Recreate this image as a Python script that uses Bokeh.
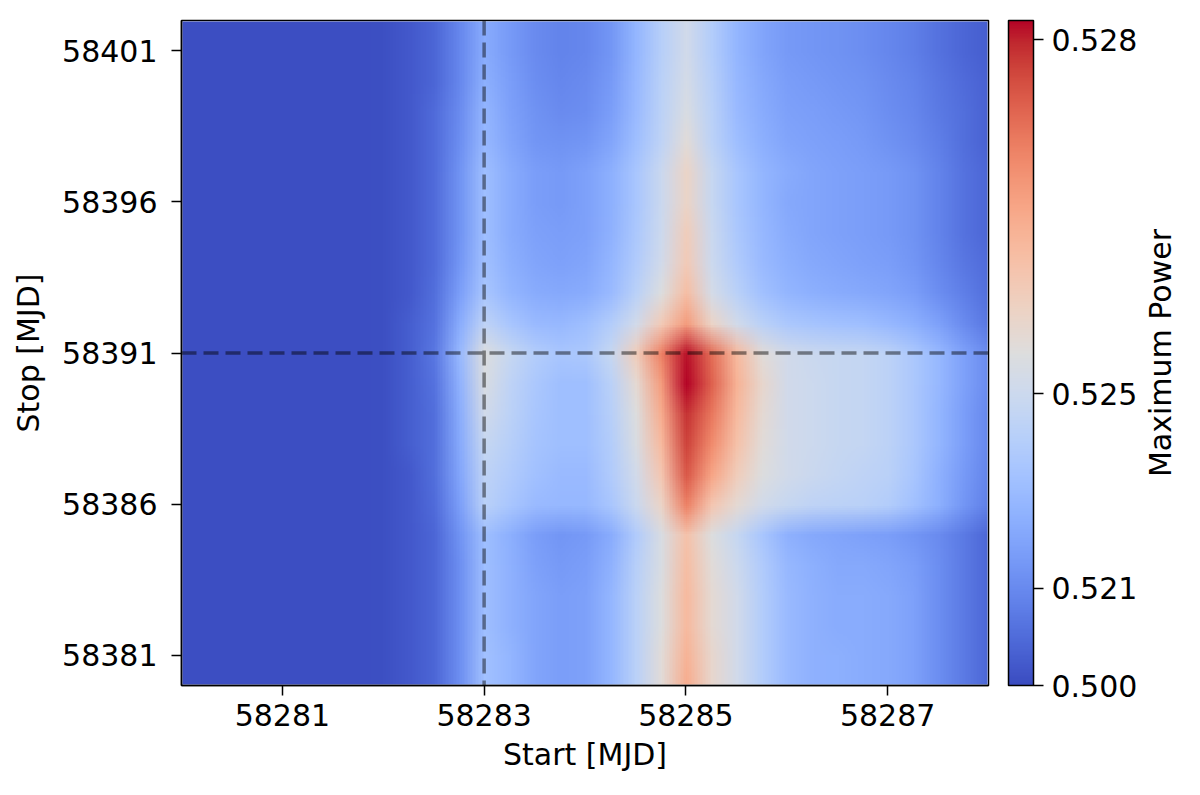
import base64
import struct
import zlib

import numpy as np
from bokeh.plotting import figure
from bokeh.layouts import row
from bokeh.models import (Range1d, FixedTicker, LinearColorMapper, ColorBar,
                          Span, NumeralTickFormatter)
from bokeh.core.properties import value
from bokeh.embed import file_html
from bokeh.resources import INLINE

# ---------------- data ----------------
# grid of start / stop dates (MJD)
start_grid = [58280.00, 58280.25, 58280.50, 58280.75, 58281.00, 58281.25, 58281.50, 58281.75,
              58282.00, 58282.25, 58282.50, 58282.75, 58283.00, 58283.25, 58283.50, 58283.75,
              58284.00, 58284.25, 58284.50, 58284.75, 58285.00, 58285.25, 58285.50, 58285.75,
              58286.00, 58286.25, 58286.50, 58286.75, 58287.00, 58287.25, 58287.50, 58287.75,
              58288.00]
stop_grid = [58380, 58381, 58382, 58383, 58384, 58385, 58386, 58387, 58388, 58389, 58390, 58391,
             58392, 58393, 58394, 58395, 58396, 58397, 58398, 58399, 58400, 58401, 58402]

# maximum power, one row per stop date (bottom -> top), one column per start date
max_power = [
 [0.5110,0.5110,0.5110,0.5110,0.5110,0.5110,0.5110,0.5110,0.5129,0.5162,0.5183,0.5212,0.5235,0.5230,0.5222,0.5219,0.5220,0.5230,0.5243,0.5255,0.5267,0.5257,0.5251,0.5241,0.5232,0.5228,0.5227,0.5225,0.5224,0.5220,0.5212,0.5198,0.5183],  # 58380
 [0.5110,0.5110,0.5110,0.5110,0.5110,0.5110,0.5110,0.5110,0.5129,0.5162,0.5183,0.5212,0.5235,0.5230,0.5222,0.5219,0.5220,0.5230,0.5243,0.5255,0.5266,0.5257,0.5251,0.5241,0.5232,0.5228,0.5227,0.5225,0.5224,0.5220,0.5212,0.5198,0.5183],  # 58381
 [0.5110,0.5110,0.5110,0.5110,0.5110,0.5110,0.5110,0.5110,0.5129,0.5162,0.5183,0.5212,0.5234,0.5228,0.5222,0.5219,0.5220,0.5230,0.5243,0.5254,0.5265,0.5256,0.5251,0.5241,0.5232,0.5228,0.5225,0.5225,0.5224,0.5220,0.5212,0.5198,0.5183],  # 58382
 [0.5110,0.5110,0.5110,0.5110,0.5110,0.5110,0.5110,0.5110,0.5129,0.5162,0.5183,0.5212,0.5234,0.5228,0.5222,0.5219,0.5220,0.5230,0.5243,0.5254,0.5265,0.5256,0.5251,0.5241,0.5232,0.5228,0.5225,0.5225,0.5224,0.5220,0.5212,0.5198,0.5183],  # 58383
 [0.5110,0.5110,0.5110,0.5110,0.5110,0.5110,0.5110,0.5110,0.5129,0.5162,0.5183,0.5212,0.5234,0.5228,0.5220,0.5217,0.5219,0.5228,0.5242,0.5253,0.5264,0.5255,0.5250,0.5240,0.5231,0.5227,0.5224,0.5224,0.5222,0.5219,0.5212,0.5198,0.5183],  # 58384
 [0.5110,0.5110,0.5110,0.5110,0.5110,0.5110,0.5110,0.5110,0.5129,0.5162,0.5183,0.5214,0.5234,0.5227,0.5219,0.5215,0.5217,0.5225,0.5240,0.5253,0.5263,0.5254,0.5248,0.5237,0.5228,0.5224,0.5222,0.5220,0.5219,0.5215,0.5211,0.5198,0.5183],  # 58385
 [0.5110,0.5110,0.5110,0.5110,0.5110,0.5110,0.5110,0.5110,0.5129,0.5162,0.5186,0.5219,0.5243,0.5237,0.5232,0.5231,0.5231,0.5237,0.5249,0.5258,0.5272,0.5262,0.5256,0.5251,0.5248,0.5245,0.5244,0.5243,0.5241,0.5235,0.5227,0.5215,0.5202],  # 58386
 [0.5110,0.5110,0.5110,0.5110,0.5110,0.5110,0.5110,0.5110,0.5129,0.5162,0.5189,0.5222,0.5245,0.5240,0.5235,0.5232,0.5232,0.5240,0.5251,0.5262,0.5276,0.5268,0.5260,0.5254,0.5251,0.5249,0.5247,0.5245,0.5243,0.5237,0.5228,0.5217,0.5205],  # 58387
 [0.5110,0.5110,0.5110,0.5110,0.5110,0.5110,0.5110,0.5110,0.5129,0.5170,0.5189,0.5224,0.5248,0.5242,0.5236,0.5234,0.5234,0.5241,0.5253,0.5265,0.5278,0.5271,0.5263,0.5255,0.5251,0.5250,0.5248,0.5247,0.5244,0.5238,0.5230,0.5219,0.5208],  # 58388
 [0.5110,0.5110,0.5110,0.5110,0.5110,0.5110,0.5110,0.5110,0.5129,0.5170,0.5189,0.5225,0.5251,0.5244,0.5237,0.5234,0.5234,0.5242,0.5254,0.5267,0.5279,0.5273,0.5265,0.5256,0.5251,0.5250,0.5248,0.5247,0.5244,0.5238,0.5230,0.5219,0.5208],  # 58389
 [0.5110,0.5110,0.5110,0.5110,0.5110,0.5110,0.5110,0.5110,0.5129,0.5170,0.5192,0.5228,0.5253,0.5245,0.5238,0.5234,0.5234,0.5243,0.5256,0.5269,0.5282,0.5275,0.5266,0.5257,0.5251,0.5250,0.5248,0.5247,0.5244,0.5238,0.5231,0.5220,0.5211],  # 58390
 [0.5110,0.5110,0.5110,0.5110,0.5110,0.5110,0.5110,0.5110,0.5129,0.5170,0.5195,0.5231,0.5254,0.5248,0.5241,0.5237,0.5238,0.5248,0.5260,0.5272,0.5281,0.5274,0.5265,0.5255,0.5251,0.5249,0.5248,0.5247,0.5244,0.5238,0.5231,0.5220,0.5211],  # 58391
 [0.5110,0.5110,0.5110,0.5110,0.5110,0.5110,0.5110,0.5110,0.5129,0.5170,0.5192,0.5225,0.5245,0.5237,0.5232,0.5231,0.5234,0.5241,0.5251,0.5261,0.5269,0.5258,0.5251,0.5243,0.5238,0.5236,0.5235,0.5234,0.5231,0.5227,0.5220,0.5211,0.5195],  # 58392
 [0.5110,0.5110,0.5110,0.5110,0.5110,0.5110,0.5110,0.5110,0.5129,0.5162,0.5189,0.5219,0.5237,0.5230,0.5225,0.5224,0.5225,0.5232,0.5243,0.5254,0.5264,0.5252,0.5243,0.5235,0.5230,0.5227,0.5225,0.5224,0.5222,0.5219,0.5212,0.5202,0.5189],  # 58393
 [0.5110,0.5110,0.5110,0.5110,0.5110,0.5110,0.5110,0.5110,0.5129,0.5162,0.5186,0.5215,0.5235,0.5227,0.5222,0.5220,0.5222,0.5230,0.5240,0.5251,0.5261,0.5250,0.5240,0.5232,0.5227,0.5224,0.5222,0.5220,0.5219,0.5215,0.5208,0.5195,0.5186],  # 58394
 [0.5110,0.5110,0.5110,0.5110,0.5110,0.5110,0.5110,0.5110,0.5129,0.5162,0.5186,0.5214,0.5234,0.5225,0.5220,0.5219,0.5220,0.5228,0.5238,0.5250,0.5260,0.5249,0.5238,0.5231,0.5225,0.5222,0.5220,0.5219,0.5217,0.5214,0.5205,0.5192,0.5183],  # 58395
 [0.5110,0.5110,0.5110,0.5110,0.5110,0.5110,0.5110,0.5110,0.5129,0.5162,0.5186,0.5214,0.5234,0.5225,0.5219,0.5217,0.5220,0.5227,0.5237,0.5249,0.5258,0.5248,0.5237,0.5230,0.5224,0.5222,0.5220,0.5219,0.5217,0.5214,0.5205,0.5192,0.5183],  # 58396
 [0.5110,0.5110,0.5110,0.5110,0.5110,0.5110,0.5110,0.5110,0.5129,0.5162,0.5186,0.5214,0.5234,0.5225,0.5219,0.5217,0.5220,0.5227,0.5237,0.5249,0.5258,0.5248,0.5237,0.5230,0.5225,0.5222,0.5220,0.5219,0.5217,0.5214,0.5205,0.5192,0.5183],  # 58397
 [0.5110,0.5110,0.5110,0.5110,0.5110,0.5110,0.5110,0.5110,0.5129,0.5162,0.5186,0.5212,0.5231,0.5222,0.5215,0.5214,0.5215,0.5222,0.5234,0.5245,0.5255,0.5244,0.5234,0.5227,0.5222,0.5220,0.5219,0.5217,0.5214,0.5211,0.5202,0.5189,0.5178],  # 58398
 [0.5110,0.5110,0.5110,0.5110,0.5110,0.5110,0.5110,0.5110,0.5129,0.5162,0.5186,0.5211,0.5230,0.5220,0.5214,0.5211,0.5212,0.5219,0.5232,0.5244,0.5253,0.5243,0.5232,0.5225,0.5220,0.5219,0.5217,0.5215,0.5212,0.5208,0.5198,0.5189,0.5178],  # 58399
 [0.5110,0.5110,0.5110,0.5110,0.5110,0.5110,0.5110,0.5110,0.5129,0.5162,0.5183,0.5208,0.5227,0.5219,0.5212,0.5208,0.5211,0.5217,0.5231,0.5243,0.5252,0.5242,0.5231,0.5224,0.5219,0.5217,0.5215,0.5214,0.5211,0.5205,0.5195,0.5186,0.5178],  # 58400
 [0.5110,0.5110,0.5110,0.5110,0.5110,0.5110,0.5110,0.5110,0.5129,0.5162,0.5183,0.5208,0.5225,0.5217,0.5211,0.5205,0.5208,0.5215,0.5230,0.5242,0.5251,0.5241,0.5230,0.5222,0.5217,0.5215,0.5214,0.5212,0.5208,0.5202,0.5192,0.5183,0.5170],  # 58401
 [0.5110,0.5110,0.5110,0.5110,0.5110,0.5110,0.5110,0.5110,0.5129,0.5162,0.5183,0.5208,0.5225,0.5217,0.5211,0.5205,0.5208,0.5215,0.5230,0.5242,0.5251,0.5241,0.5230,0.5222,0.5217,0.5215,0.5214,0.5212,0.5208,0.5202,0.5192,0.5183,0.5170],  # 58402
]

best_start = 58283.0
best_stop = 58391.0

x_ticks = [58281, 58283, 58285, 58287]
y_ticks = [58381, 58386, 58391, 58396, 58401]
cbar_ticks = [0.500, 0.521, 0.525, 0.528]
cbar_labels = ["0.500", "0.521", "0.525", "0.528"]

# non-linear colour normalisation of the colour bar (value -> fraction of bar)
norm_v = [0.500, 0.510, 0.515, 0.518, 0.521, 0.523, 0.525, 0.5265, 0.528, 0.5282]
norm_f = [0.000, 0.002, 0.016, 0.052, 0.146, 0.270, 0.4385, 0.660, 0.971, 1.000]

# coolwarm colour map control points
cw_pos = np.linspace(0, 1, 33)
cw_rgb = [(59, 76, 192), (68, 90, 204), (77, 104, 215), (87, 117, 225), (98, 130, 234),
          (108, 142, 241), (119, 154, 247), (130, 165, 251), (141, 176, 254), (152, 185, 255),
          (163, 194, 255), (174, 201, 253), (184, 208, 249), (194, 213, 244), (204, 217, 238),
          (213, 219, 230), (221, 221, 221), (229, 216, 209), (236, 211, 197), (241, 204, 185),
          (245, 196, 173), (247, 187, 160), (247, 177, 148), (247, 166, 135), (244, 154, 123),
          (241, 141, 111), (236, 127, 99), (229, 112, 88), (222, 96, 77), (213, 80, 66),
          (203, 62, 56), (192, 40, 47), (180, 4, 38)]

# ---------------- build ----------------
FONT = "DejaVu Sans"
FS = "30px"
W_MAIN, W_TITLE, H = 1140, 40, 779
BORDER_L, BORDER_T, BORDER_B = 181, 20, 94
FRAME_R = 988

t = np.linspace(0, 1, 256)
rgb = np.array(cw_rgb, dtype=float)
pal_rgb = np.array([[int(round(np.interp(tt, cw_pos, rgb[:, c]))) for c in range(3)] for tt in t],
                   dtype=np.uint8)
palette = ["#%02x%02x%02x" % tuple(int(v) for v in c) for c in pal_rgb]
mapper = LinearColorMapper(palette=palette, low=0.0, high=1.0)

# colour every grid cell exactly like the LinearColorMapper would
power = np.array(max_power, dtype=float)
frac = np.interp(power, norm_v, norm_f)
idx = np.clip((frac * len(palette)).astype(int), 0, len(palette) - 1)
cells = pal_rgb[idx][::-1]           # top row first for the raster


def png_url(arr):
    h, w, _ = arr.shape
    raw = b"".join(b"\x00" + np.ascontiguousarray(arr[r]).tobytes() for r in range(h))

    def chunk(tag, data):
        return (struct.pack(">I", len(data)) + tag + data +
                struct.pack(">I", zlib.crc32(tag + data) & 0xFFFFFFFF))
    png = (b"\x89PNG\r\n\x1a\n" +
           chunk(b"IHDR", struct.pack(">IIBBBBB", w, h, 8, 2, 0, 0, 0)) +
           chunk(b"IDAT", zlib.compress(raw, 9)) + chunk(b"IEND", b""))
    return "data:image/png;base64," + base64.b64encode(png).decode("ascii")


dx = start_grid[1] - start_grid[0]
dy = stop_grid[1] - stop_grid[0]

p = figure(width=W_MAIN, height=H,
           x_range=Range1d(58280, 58288), y_range=Range1d(58380, 58402),
           output_backend="svg", toolbar_location=None,
           min_border_left=BORDER_L, min_border_right=W_MAIN - FRAME_R,
           min_border_top=BORDER_T, min_border_bottom=BORDER_B)

# heat map: one raster cell per (start, stop) grid point, placed through the data scales
p.image_url(url=[png_url(cells)], x=start_grid[0] - dx / 2, y=stop_grid[0] - dy / 2,
            w=(start_grid[-1] - start_grid[0]) + dx, h=(stop_grid[-1] - stop_grid[0]) + dy,
            anchor="bottom_left")

p.add_layout(Span(location=best_start, dimension="height", line_color="black",
                  line_alpha=0.45, line_width=3.5, line_dash="15 7"))
p.add_layout(Span(location=best_stop, dimension="width", line_color="black",
                  line_alpha=0.45, line_width=3.5, line_dash="15 7"))

p.xgrid.visible = False
p.ygrid.visible = False
p.outline_line_color = "black"
p.outline_line_width = 1.5
p.background_fill_color = "white"

p.xaxis.ticker = FixedTicker(ticks=x_ticks)
p.yaxis.ticker = FixedTicker(ticks=y_ticks)
for ax in (p.xaxis[0], p.yaxis[0]):
    ax.formatter = NumeralTickFormatter(format="0")
    ax.major_tick_in = 0
    ax.major_tick_out = 10
    ax.minor_tick_line_color = None
    ax.major_tick_line_width = 1.5
    ax.axis_line_width = 1.5
    ax.major_label_text_font = FONT
    ax.major_label_text_font_size = FS
    ax.major_label_text_color = "black"
    ax.axis_label_text_font = FONT
    ax.axis_label_text_font_size = FS
    ax.axis_label_text_font_style = "normal"
    ax.axis_label_text_color = "black"
p.xaxis.axis_label = "Start [MJD]"
p.yaxis.axis_label = "Stop [MJD]"
p.xaxis.major_label_standoff = 8
p.yaxis.major_label_standoff = 14
p.xaxis.axis_label_standoff = 8
p.yaxis.axis_label_standoff = 13

cb_pos = [float(v) for v in np.interp(cbar_ticks, norm_v, norm_f)]
cbar = ColorBar(color_mapper=mapper,
                ticker=FixedTicker(ticks=cb_pos),
                major_label_overrides={pos: lab for pos, lab in zip(cb_pos, cbar_labels)},
                width=25, height="auto", padding=0, margin=0, location=(20, 0),
                bar_line_color="black", bar_line_width=1.5,
                major_tick_line_color="black", major_tick_line_width=1.5,
                major_tick_in=0, major_tick_out=10, label_standoff=8,
                major_label_text_font=FONT, major_label_text_font_size=FS,
                major_label_text_color="black",
                border_line_color=None, background_fill_color=None)
p.add_layout(cbar, "right")

# colour-bar title, rotated, in a narrow companion panel aligned with the frame
tp = figure(width=W_TITLE, height=H, x_range=Range1d(0, 1), y_range=Range1d(58380, 58402),
            output_backend="svg", toolbar_location=None,
            x_axis_type=None, y_axis_type=None,
            min_border_left=0, min_border_right=0,
            min_border_top=BORDER_T, min_border_bottom=BORDER_B)
tp.outline_line_color = None
tp.grid.visible = False
tp.text(x=[0.5], y=[(58380 + 58402) / 2], text=["Maximum Power"], angle=np.pi / 2,
        text_align="center", text_baseline="middle",
        text_font=value(FONT), text_font_size=value(FS), text_color="black")

layout = row(p, tp)

with open("out.html", "w") as f:
    f.write(file_html(layout, INLINE))
